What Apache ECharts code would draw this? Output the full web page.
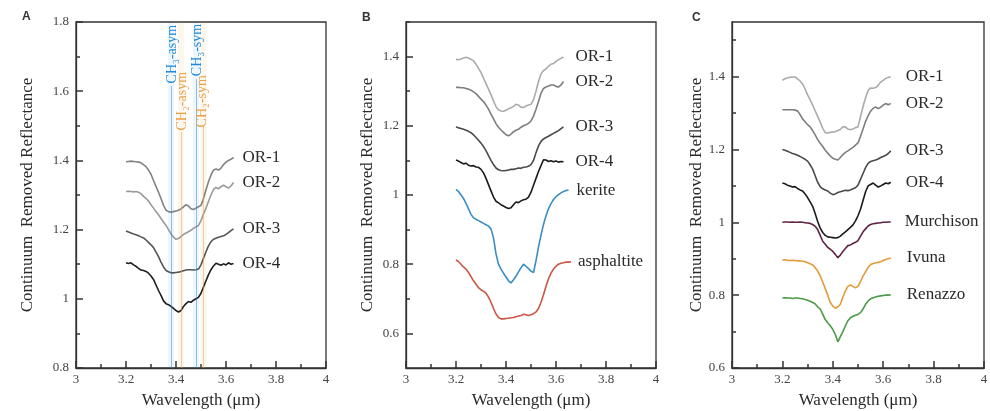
<!DOCTYPE html>
<html>
<head>
<meta charset="utf-8">
<script src="https://cdn.jsdelivr.net/npm/echarts@6/dist/echarts.min.js"></script>
<style>
  html, body { margin: 0; padding: 0; background: #fff; }
  #chart { width: 990px; height: 411px; }
</style>
</head>
<body>
<div id="chart"></div>
<script>
// Wavelength sampling (µm); each spectrum uses as many points as it has values
const wavelength = [
  3.20, 3.21, 3.22, 3.23, 3.24, 3.25, 3.26, 3.27, 3.28, 3.29,
  3.30, 3.31, 3.32, 3.33, 3.34, 3.35, 3.36, 3.37, 3.38, 3.39,
  3.40, 3.41, 3.42, 3.43, 3.44, 3.45, 3.46, 3.47, 3.48, 3.49,
  3.50, 3.51, 3.52, 3.53, 3.54, 3.55, 3.56, 3.57, 3.58, 3.59,
  3.60, 3.61, 3.62, 3.63, 3.64, 3.65, 3.66
];

// Panel A – OR samples (offset for clarity)
const aOR1 = [
  1.396, 1.397, 1.398, 1.397, 1.396, 1.395, 1.393, 1.388, 1.382, 1.372,
  1.360, 1.342, 1.325, 1.308, 1.290, 1.270, 1.256, 1.252, 1.250, 1.252,
  1.254, 1.256, 1.260, 1.266, 1.272, 1.268, 1.260, 1.258, 1.262, 1.266,
  1.270, 1.290, 1.315, 1.338, 1.358, 1.372, 1.375, 1.372, 1.378, 1.388,
  1.395, 1.400, 1.403, 1.409
];
const aOR2 = [
  1.310, 1.311, 1.310, 1.309, 1.310, 1.308, 1.304, 1.296, 1.290, 1.283,
  1.272, 1.262, 1.252, 1.243, 1.232, 1.222, 1.212, 1.200, 1.188, 1.178,
  1.172, 1.174, 1.180, 1.186, 1.190, 1.194, 1.198, 1.204, 1.208, 1.212,
  1.226, 1.245, 1.262, 1.282, 1.300, 1.316, 1.322, 1.318, 1.324, 1.328,
  1.324, 1.320, 1.326, 1.336
];
const aOR3 = [
  1.196, 1.193, 1.190, 1.187, 1.185, 1.182, 1.179, 1.176, 1.170, 1.163,
  1.156, 1.148, 1.135, 1.122, 1.106, 1.092, 1.082, 1.078, 1.075, 1.075,
  1.076, 1.077, 1.079, 1.081, 1.083, 1.084, 1.084, 1.083, 1.084, 1.086,
  1.098, 1.117, 1.136, 1.153, 1.165, 1.172, 1.175, 1.178, 1.180, 1.182,
  1.186, 1.191, 1.197, 1.202
];
const aOR4 = [
  1.104, 1.102, 1.104, 1.098, 1.094, 1.088, 1.083, 1.082, 1.079, 1.074,
  1.066, 1.056, 1.040, 1.024, 1.010, 0.994, 0.986, 0.983, 0.978, 0.972,
  0.966, 0.962, 0.966, 0.978, 0.986, 0.992, 0.990, 0.996, 1.000, 1.004,
  1.016, 1.034, 1.052, 1.070, 1.084, 1.095, 1.103, 1.100, 1.097, 1.101,
  1.098, 1.104, 1.100, 1.102
];

// Panel B – OR samples with terrestrial analogues
const bOR1 = [
  1.392, 1.391, 1.393, 1.396, 1.398, 1.396, 1.392, 1.388, 1.378, 1.366,
  1.354, 1.338, 1.322, 1.306, 1.290, 1.272, 1.255, 1.246, 1.243, 1.242,
  1.245, 1.249, 1.252, 1.256, 1.262, 1.260, 1.254, 1.253, 1.257, 1.260,
  1.262, 1.275, 1.300, 1.328, 1.350, 1.360, 1.364, 1.372, 1.378, 1.380,
  1.386, 1.391, 1.395, 1.399
];
const bOR2 = [
  1.311, 1.311, 1.310, 1.310, 1.308, 1.306, 1.303, 1.298, 1.293, 1.285,
  1.277, 1.270, 1.260, 1.248, 1.234, 1.220, 1.206, 1.196, 1.188, 1.181,
  1.174, 1.171, 1.176, 1.183, 1.187, 1.190, 1.196, 1.200, 1.203, 1.207,
  1.214, 1.228, 1.248, 1.270, 1.294, 1.308, 1.312, 1.315, 1.318, 1.318,
  1.314, 1.312, 1.318, 1.328
];
const bOR3 = [
  1.197, 1.194, 1.192, 1.190, 1.187, 1.184, 1.180, 1.174, 1.166, 1.158,
  1.150, 1.140, 1.128, 1.114, 1.100, 1.088, 1.078, 1.073, 1.071, 1.070,
  1.071, 1.072, 1.074, 1.074, 1.076, 1.078, 1.077, 1.080, 1.081, 1.083,
  1.088, 1.100, 1.122, 1.142, 1.155, 1.162, 1.166, 1.170, 1.174, 1.178,
  1.182, 1.186, 1.192, 1.197
];
const bOR4 = [
  1.101, 1.098, 1.094, 1.090, 1.092, 1.086, 1.084, 1.085, 1.081, 1.080,
  1.074, 1.064, 1.048, 1.030, 1.012, 0.994, 0.982, 0.977, 0.972, 0.968,
  0.964, 0.961, 0.963, 0.972, 0.980, 0.978, 0.983, 0.986, 0.988, 0.994,
  1.008, 1.028, 1.048, 1.068, 1.085, 1.102, 1.101, 1.097, 1.099, 1.096,
  1.098, 1.095, 1.097, 1.096
];
const kerite = [
  1.016, 1.010, 1.000, 0.990, 0.976, 0.960, 0.944, 0.934, 0.930, 0.926,
  0.922, 0.918, 0.914, 0.910, 0.902, 0.876, 0.830, 0.800, 0.786, 0.774,
  0.763, 0.752, 0.746, 0.755, 0.765, 0.778, 0.790, 0.800, 0.794, 0.787,
  0.780, 0.776, 0.810, 0.850, 0.884, 0.915, 0.940, 0.960, 0.975, 0.987,
  0.995, 1.001, 1.006, 1.010, 1.013, 1.014
];
const asphaltite = [
  0.812, 0.808, 0.800, 0.792, 0.786, 0.776, 0.764, 0.752, 0.742, 0.732,
  0.726, 0.722, 0.716, 0.705, 0.690, 0.672, 0.656, 0.646, 0.642, 0.642,
  0.643, 0.644, 0.645, 0.646, 0.648, 0.650, 0.652, 0.655, 0.654, 0.652,
  0.654, 0.657, 0.662, 0.672, 0.690, 0.712, 0.736, 0.758, 0.774, 0.786,
  0.794, 0.800, 0.803, 0.804, 0.806, 0.806, 0.807
];

// Panel C – OR samples with carbonaceous chondrites
const cOR1 = [
  1.390, 1.394, 1.397, 1.398, 1.399, 1.399, 1.394, 1.388, 1.380, 1.366,
  1.350, 1.336, 1.322, 1.306, 1.291, 1.275, 1.258, 1.246, 1.245, 1.247,
  1.248, 1.249, 1.252, 1.255, 1.262, 1.262, 1.256, 1.254, 1.256, 1.260,
  1.262, 1.290, 1.318, 1.342, 1.362, 1.369, 1.368, 1.370, 1.376, 1.385,
  1.390, 1.395, 1.398, 1.399
];
const cOR2 = [
  1.309, 1.309, 1.309, 1.309, 1.309, 1.308, 1.306, 1.296, 1.284, 1.276,
  1.268, 1.262, 1.252, 1.240, 1.227, 1.217, 1.208, 1.198, 1.190, 1.182,
  1.176, 1.173, 1.171, 1.178, 1.186, 1.192, 1.196, 1.201, 1.206, 1.212,
  1.218, 1.236, 1.256, 1.277, 1.292, 1.305, 1.313, 1.317, 1.312, 1.316,
  1.322, 1.326, 1.323, 1.326
];
const cOR3 = [
  1.200, 1.198, 1.195, 1.192, 1.189, 1.187, 1.184, 1.181, 1.177, 1.173,
  1.168, 1.158, 1.146, 1.128, 1.110, 1.098, 1.092, 1.089, 1.086, 1.080,
  1.076, 1.078, 1.082, 1.084, 1.086, 1.088, 1.087, 1.089, 1.092, 1.095,
  1.102, 1.118, 1.134, 1.150, 1.162, 1.167, 1.169, 1.171, 1.174, 1.178,
  1.181, 1.184, 1.189, 1.196
];
const cOR4 = [
  1.108, 1.106, 1.102, 1.100, 1.097, 1.098, 1.093, 1.089, 1.086, 1.078,
  1.068, 1.056, 1.044, 1.024, 1.002, 0.984, 0.972, 0.964, 0.960, 0.959,
  0.958, 0.957, 0.958, 0.962, 0.968, 0.974, 0.980, 0.986, 0.993, 1.004,
  1.018, 1.036, 1.060, 1.084, 1.100, 1.104, 1.108, 1.102, 1.097, 1.100,
  1.104, 1.108, 1.106, 1.110
];
const murchison = [
  1.000, 1.001, 1.001, 1.000, 1.001, 1.000, 1.000, 1.001, 1.000, 0.999,
  0.998, 0.997, 0.994, 0.989, 0.980, 0.964, 0.948, 0.940, 0.931, 0.926,
  0.920, 0.912, 0.903, 0.910, 0.920, 0.928, 0.936, 0.938, 0.942, 0.945,
  0.950, 0.962, 0.974, 0.982, 0.990, 0.994, 0.996, 0.997, 0.998, 0.999,
  1.000, 1.000, 1.001, 1.001
];
const ivuna = [
  0.896, 0.897, 0.896, 0.895, 0.896, 0.895, 0.894, 0.894, 0.893, 0.892,
  0.889, 0.886, 0.883, 0.876, 0.866, 0.853, 0.836, 0.818, 0.800, 0.780,
  0.770, 0.764, 0.768, 0.775, 0.795, 0.812, 0.824, 0.828, 0.824, 0.820,
  0.824, 0.838, 0.852, 0.864, 0.876, 0.884, 0.887, 0.889, 0.890, 0.892,
  0.895, 0.898, 0.900, 0.902
];
const renazzo = [
  0.792, 0.793, 0.792, 0.792, 0.791, 0.792, 0.792, 0.791, 0.790, 0.788,
  0.786, 0.783, 0.780, 0.776, 0.768, 0.762, 0.748, 0.733, 0.724, 0.716,
  0.706, 0.692, 0.672, 0.686, 0.700, 0.716, 0.730, 0.738, 0.742, 0.745,
  0.747, 0.752, 0.762, 0.775, 0.784, 0.790, 0.793, 0.795, 0.797, 0.798,
  0.799, 0.800, 0.800, 0.801
];

// Axis ticks
const xMajor = [3, 3.2, 3.4, 3.6, 3.8, 4];
const xMinor = [3.1, 3.3, 3.5, 3.7, 3.9];
const yMajorA = [0.8, 1, 1.2, 1.4, 1.6, 1.8];
const yMinorA = [0.9, 1.1, 1.3, 1.5, 1.7];
const yMajorB = [0.6, 0.8, 1, 1.2, 1.4];
const yMinorB = [0.7, 0.9, 1.1, 1.3, 1.5];
const yMajorC = [0.6, 0.8, 1, 1.2, 1.4];
const yMinorC = [0.7, 0.9, 1.1, 1.3, 1.5];

// C–H stretching band positions (µm) and their labels
const bandWave = [3.38, 3.42, 3.48, 3.51];
const bandName = ['CH\u2083-asym', 'CH\u2082-asym', 'CH\u2083-sym', 'CH\u2082-sym'];

const SERIF = '"Liberation Serif", "Times New Roman", "DejaVu Serif", serif';
const AXIS_COLOR = '#333333';
const CH3_COLOR = '#1f8ad6';
const CH2_COLOR = '#eaa24a';

const toPairs = vals => vals.map((v, i) => [wavelength[i], v]);

const grids = [
  { left: 76, top: 22, width: 250, height: 346 },
  { left: 406, top: 22, width: 250, height: 346 },
  { left: 732, top: 22, width: 252, height: 346 }
].map(g => Object.assign({
  show: true, borderColor: AXIS_COLOR, borderWidth: 1.3,
  backgroundColor: 'transparent', containLabel: false, outerBoundsMode: 'none'
}, g));

const tickStyle = { color: AXIS_COLOR, width: 1.5 };

function xAxesFor(gi) {
  return [
    {
      type: 'value', gridIndex: gi, min: 3, max: 4, position: 'bottom',
      name: 'Wavelength (\u03bcm)', nameLocation: 'middle', nameGap: 24,
      nameTextStyle: { fontFamily: SERIF, fontSize: 17, color: '#2a2a2a' },
      axisLine: { show: true, lineStyle: { color: AXIS_COLOR, width: 1.3 } },
      axisTick: { show: true, inside: true, length: 7, customValues: xMajor, lineStyle: tickStyle },
      axisLabel: { customValues: xMajor, fontFamily: SERIF, fontSize: 13, color: '#444', margin: 5 },
      splitLine: { show: false }
    },
    {
      type: 'value', gridIndex: gi, min: 3, max: 4, position: 'bottom',
      axisLine: { show: false },
      axisTick: { show: true, inside: true, length: 4, customValues: xMinor, lineStyle: tickStyle },
      axisLabel: { show: false },
      splitLine: { show: false }
    }
  ];
}

function yAxesFor(gi, min, max, major, minor, gap) {
  return [
    {
      type: 'value', gridIndex: gi, min: min, max: max, position: 'left',
      name: 'Continuum  Removed Reflectance', nameLocation: 'middle', nameGap: gap,
      nameTextStyle: { fontFamily: SERIF, fontSize: 17, color: '#2a2a2a' },
      axisLine: { show: true, lineStyle: { color: AXIS_COLOR, width: 1.3 } },
      axisTick: { show: true, inside: true, length: 7, customValues: major, lineStyle: tickStyle },
      axisLabel: { customValues: major, fontFamily: SERIF, fontSize: 13, color: '#444', margin: 7 },
      splitLine: { show: false }
    },
    {
      type: 'value', gridIndex: gi, min: min, max: max, position: 'left',
      axisLine: { show: false },
      axisTick: { show: true, inside: true, length: 4, customValues: minor, lineStyle: tickStyle },
      axisLabel: { show: false },
      splitLine: { show: false }
    }
  ];
}

function spectrum(name, vals, gi, color, labelGap) {
  return {
    name: name, type: 'line', xAxisIndex: gi * 2, yAxisIndex: gi * 2,
    data: toPairs(vals), showSymbol: false, symbol: 'none', silent: true,
    lineStyle: { color: color, width: 1.6 },
    endLabel: {
      show: true, formatter: '{a}', distance: labelGap,
      fontFamily: SERIF, fontSize: 17, color: '#2a2a2a'
    },
    z: 3
  };
}

// Band markers for panel A: thin vertical lines with faint shading and rotated labels
const bandColors = [CH3_COLOR, CH2_COLOR, CH3_COLOR, CH2_COLOR];
const labelCenterY = [1.707, 1.571, 1.719, 1.571];
const lineTopY = [1.615, 1.482, 1.635, 1.500];
const labelOffsetX = [0.004, 0.006, 0.004, -0.006];

const bandSeries = {
  name: 'bands', type: 'line', xAxisIndex: 0, yAxisIndex: 0, data: [],
  silent: true, z: 1,
  markArea: {
    silent: true,
    data: bandWave.map((w, i) => [
      { xAxis: w - 0.012, itemStyle: { color: i % 2 === 0 ? 'rgba(31,138,214,0.08)' : 'rgba(234,162,74,0.10)' } },
      { xAxis: w + 0.012 }
    ])
  },
  markLine: {
    silent: true, symbol: ['none', 'none'], label: { show: false },
    data: bandWave.map((w, i) => [
      { coord: [w, 0.8], lineStyle: { color: bandColors[i], width: 1, type: 'solid', opacity: 0.5 } },
      { coord: [w, lineTopY[i]] }
    ])
  },
  markPoint: {
    silent: true, symbol: 'circle', symbolSize: 0,
    data: bandWave.map((w, i) => ({
      coord: [w + labelOffsetX[i], labelCenterY[i]],
      label: {
        show: true, position: 'inside', rotate: 90,
        formatter: bandName[i], color: bandColors[i],
        fontFamily: SERIF, fontSize: 14
      }
    }))
  }
};

const option = {
  animation: false,
  backgroundColor: '#ffffff',
  grid: grids,
  xAxis: [].concat(xAxesFor(0), xAxesFor(1), xAxesFor(2)),
  yAxis: [].concat(
    yAxesFor(0, 0.8, 1.8, yMajorA, yMinorA, 40),
    yAxesFor(1, 0.5, 1.5, yMajorB, yMinorB, 30),
    yAxesFor(2, 0.6, 1.55, yMajorC, yMinorC, 27)
  ),
  graphic: [
    { type: 'text', left: 22, top: 11, style: { text: 'A', font: 'bold 12px "Liberation Sans", Arial, sans-serif', fill: '#333' } },
    { type: 'text', left: 362, top: 12, style: { text: 'B', font: 'bold 12px "Liberation Sans", Arial, sans-serif', fill: '#333' } },
    { type: 'text', left: 692, top: 12, style: { text: 'C', font: 'bold 12px "Liberation Sans", Arial, sans-serif', fill: '#333' } }
  ],
  series: [
    bandSeries,
    spectrum('OR-1', aOR1, 0, '#828282', 9),
    spectrum('OR-2', aOR2, 0, '#9a9a9a', 9),
    spectrum('OR-3', aOR3, 0, '#555555', 9),
    spectrum('OR-4', aOR4, 0, '#1e1e1e', 9),

    spectrum('OR-1', bOR1, 1, '#ababab', 12),
    spectrum('OR-2', bOR2, 1, '#7e7e7e', 12),
    spectrum('OR-3', bOR3, 1, '#4a4a4a', 12),
    spectrum('OR-4', bOR4, 1, '#1a1a1a', 12),
    spectrum('kerite', kerite, 1, '#3a8ec4', 8),
    spectrum('asphaltite', asphaltite, 1, '#cc5544', 7),

    spectrum('OR-1', cOR1, 2, '#ababab', 15),
    spectrum('OR-2', cOR2, 2, '#7e7e7e', 15),
    spectrum('OR-3', cOR3, 2, '#4a4a4a', 15),
    spectrum('OR-4', cOR4, 2, '#1a1a1a', 15),
    spectrum('Murchison', murchison, 2, '#5e2345', 14),
    spectrum('Ivuna', ivuna, 2, '#e39a3b', 16),
    spectrum('Renazzo', renazzo, 2, '#4a9a48', 16)
  ]
};

const chart = echarts.init(document.getElementById('chart'), null, { renderer: 'canvas' });
chart.setOption(option);
</script>
</body>
</html>
